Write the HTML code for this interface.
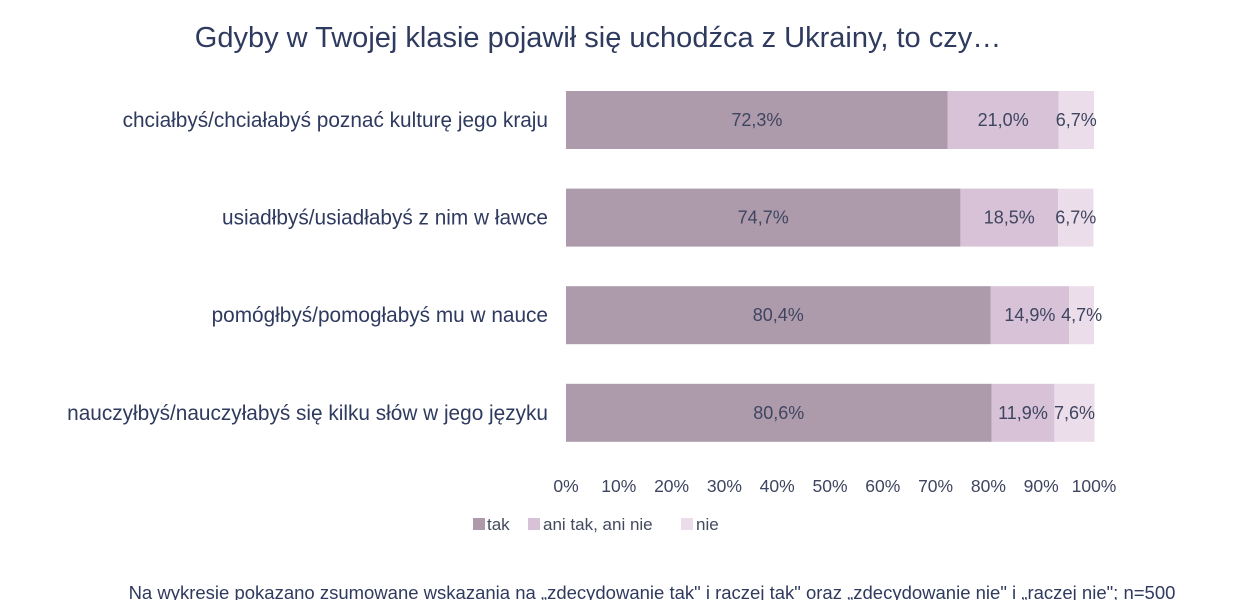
<!DOCTYPE html>
<html><head><meta charset="utf-8"><style>
body{margin:0;background:#fff;}
svg{display:block;font-family:"Liberation Sans",sans-serif;}
</style></head><body>
<svg id="chart" width="1250" height="600">
<text x="598" y="47" text-anchor="middle" font-size="29" fill="#2f3a5f">Gdyby w Twojej klasie pojawił się uchodźca z Ukrainy, to czy…</text>
<g id="bars"></g>
<g id="xaxis"></g>
<g>
<rect x="473" y="518" width="12" height="12" fill="#ad9bac"/>
<text x="487" y="530" font-size="17" fill="#444a5e">tak</text>
<rect x="528" y="518" width="12" height="12" fill="#d8c2d7"/>
<text x="543" y="530" font-size="17" fill="#444a5e">ani tak, ani nie</text>
<rect x="681" y="518" width="12" height="12" fill="#ebdeea"/>
<text x="696" y="530" font-size="17" fill="#444a5e">nie</text>
</g>
<text x="652" y="599" text-anchor="middle" font-size="18.5" fill="#2f3a5f">Na wykresie pokazano zsumowane wskazania na „zdecydowanie tak" i raczej tak" oraz „zdecydowanie nie" i „raczej nie"; n=500</text>
</svg>
<script>
const categories=["chciałbyś/chciałabyś poznać kulturę jego kraju","usiadłbyś/usiadłabyś z nim w ławce","pomógłbyś/pomogłabyś mu w nauce","nauczyłbyś/nauczyłabyś się kilku słów w jego języku"];
const tak=[72.3,74.7,80.4,80.6];
const ani=[21.0,18.5,14.9,11.9];
const nie=[6.7,6.7,4.7,7.6];
const ticks=[0,10,20,30,40,50,60,70,80,90,100];
const NS="http://www.w3.org/2000/svg";
const x0=566,x1=1094;
const xs=v=>x0+(x1-x0)*v/100;
const rowY=i=>91+i*97.6;
const bh=58;
const fmt=v=>v.toFixed(1).replace('.',',')+'%';
const bars=document.getElementById('bars');
const series=[{d:tak,c:"#ad9bac",n:"tak"},{d:ani,c:"#d8c2d7",n:"ani"},{d:nie,c:"#ebdeea",n:"nie"}];
categories.forEach((cat,i)=>{
  const y=rowY(i);
  const t=document.createElementNS(NS,'text');
  t.setAttribute('x',548);t.setAttribute('y',y+bh/2+7);t.setAttribute('text-anchor','end');
  t.setAttribute('font-size','20.8');t.setAttribute('fill','#2f3a5f');t.textContent=cat;
  
  
  bars.appendChild(t);
  let acc=0;
  series.forEach(s=>{
    const v=s.d[i];
    const r=document.createElementNS(NS,'rect');
    r.setAttribute('x',xs(acc));r.setAttribute('y',y);r.setAttribute('width',xs(acc+v)-xs(acc));r.setAttribute('height',bh);r.setAttribute('fill',s.c);
    
    
    bars.appendChild(r);
    const l=document.createElementNS(NS,'text');
    l.setAttribute('x',(xs(acc)+xs(acc+v))/2);l.setAttribute('y',y+bh/2+6);l.setAttribute('text-anchor','middle');
    l.setAttribute('font-size','18');l.setAttribute('fill','#3f4560');l.textContent=fmt(v);
    
    
    bars.appendChild(l);
    acc+=v;
  });
});
const xa=document.getElementById('xaxis');
ticks.forEach(v=>{
  const t=document.createElementNS(NS,'text');
  t.setAttribute('x',xs(v));t.setAttribute('y',492);t.setAttribute('text-anchor','middle');
  t.setAttribute('font-size','17.5');t.setAttribute('fill','#3f4560');t.textContent=v+'%';
  
  
  xa.appendChild(t);
});
</script>
</body></html>
